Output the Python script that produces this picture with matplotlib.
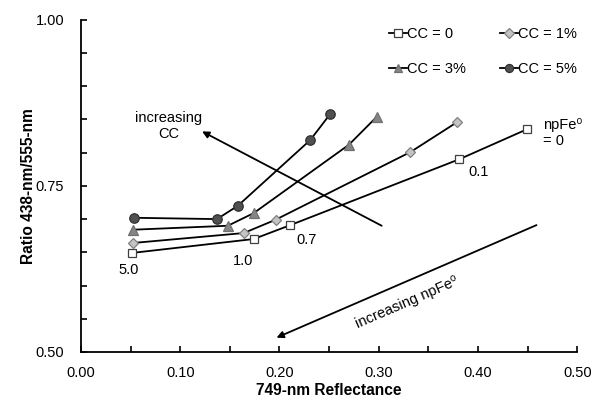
import matplotlib
matplotlib.use("Agg")
import matplotlib.pyplot as plt
from matplotlib.ticker import MultipleLocator, FormatStrFormatter

plt.rcParams['font.family'] = ['Liberation Sans', 'DejaVu Sans']

# 749-nm reflectance (x) and 438/555 ratio (y) for each carbon content,
# ordered from npFe0 = 5.0 down to npFe0 = 0
cc0_x = [0.051, 0.174, 0.211, 0.381, 0.449]
cc0_y = [0.649, 0.670, 0.691, 0.790, 0.835]
cc1_x = [0.052, 0.164, 0.196, 0.332, 0.379]
cc1_y = [0.664, 0.679, 0.699, 0.801, 0.846]
cc3_x = [0.052, 0.148, 0.174, 0.270, 0.298]
cc3_y = [0.684, 0.690, 0.709, 0.812, 0.854]
cc5_x = [0.053, 0.137, 0.158, 0.231, 0.251]
cc5_y = [0.702, 0.700, 0.720, 0.819, 0.858]

series_labels = ["CC = 0", "CC = 1%", "CC = 3%", "CC = 5%"]
npfe_labels = ["5.0", "1.0", "0.7", "0.1"]

fig = plt.figure(figsize=(6.0, 4.05), dpi=100)
ax = fig.add_axes([0.135, 0.131, 0.827, 0.820])

styles = [
    dict(marker='s', markerfacecolor='white', markeredgecolor='#404040', markersize=6.3),
    dict(marker='D', markerfacecolor='#c4c4c4', markeredgecolor='#808080', markersize=5.5),
    dict(marker='^', markerfacecolor='#858585', markeredgecolor='#707070', markersize=7.5),
    dict(marker='o', markerfacecolor='#505050', markeredgecolor='#303030', markersize=6.8),
]
data = [(cc0_x, cc0_y), (cc1_x, cc1_y), (cc3_x, cc3_y), (cc5_x, cc5_y)]
handles = []
for (xs, ys), st, lab in zip(data, styles, series_labels):
    h, = ax.plot(xs, ys, color='black', lw=1.3, label=lab, markeredgewidth=0.9, **st)
    handles.append(h)

ax.set_xlim(0, 0.5)
ax.set_ylim(0.5, 1.0)
ax.xaxis.set_major_locator(MultipleLocator(0.1))
ax.xaxis.set_minor_locator(MultipleLocator(0.05))
ax.yaxis.set_major_locator(MultipleLocator(0.25))
ax.yaxis.set_minor_locator(MultipleLocator(0.05))
ax.xaxis.set_major_formatter(FormatStrFormatter('%.2f'))
ax.yaxis.set_major_formatter(FormatStrFormatter('%.2f'))
for s in ['top', 'right']:
    ax.spines[s].set_visible(False)
for s in ['left', 'bottom']:
    ax.spines[s].set_linewidth(1.3)
ax.tick_params(which='both', direction='in', length=4, width=1.2, labelsize=10.5,
               colors='black')
ax.tick_params(axis='x', which='both', pad=10)
ax.tick_params(axis='y', which='both', pad=12)
ax.set_xlabel("749-nm Reflectance", fontsize=11.2, fontweight='bold', labelpad=2)
ax.set_ylabel("Ratio 438-nm/555-nm", fontsize=11.2, fontweight='bold', labelpad=0)

# npFe0 labels along the CC = 0 series
lab_fs = 10.5
ax.text(0.048, 0.624, npfe_labels[0], fontsize=lab_fs, ha='center', va='center')
ax.text(0.163, 0.637, npfe_labels[1], fontsize=lab_fs, ha='center', va='center')
ax.text(0.227, 0.668, npfe_labels[2], fontsize=lab_fs, ha='center', va='center')
ax.text(0.401, 0.771, npfe_labels[3], fontsize=lab_fs, ha='center', va='center')
ax.text(0.466, 0.830, "npFe\u2070\n= 0", fontsize=lab_fs, ha='left', va='center',
        linespacing=1.15)

# direction arrows
ax.annotate("", xy=(0.122, 0.832), xytext=(0.303, 0.690),
            arrowprops=dict(arrowstyle='-|>', color='black', lw=1.3,
                            mutation_scale=10, shrinkA=0, shrinkB=0))
ax.text(0.088, 0.840, "increasing\nCC", fontsize=lab_fs, ha='center', va='center',
        linespacing=1.2)
ax.annotate("", xy=(0.197, 0.5215), xytext=(0.459, 0.691),
            arrowprops=dict(arrowstyle='-|>', color='black', lw=1.3,
                            mutation_scale=10, shrinkA=0, shrinkB=0))
ax.text(0.328, 0.574, "increasing npFe\u2070", fontsize=lab_fs, ha='center',
        va='center', rotation=23.4, rotation_mode='anchor')

# legend filled row by row: (0, 1%) then (3%, 5%)
order = [0, 2, 1, 3]
fig.legend([handles[i] for i in order], [series_labels[i] for i in order],
           loc='upper left', bbox_to_anchor=(389 / 600, 1 - 27 / 405), ncol=2,
           frameon=False, fontsize=10.5, handlelength=1.25, handletextpad=0.0,
           columnspacing=2.3, labelspacing=1.45, borderaxespad=0.0,
           borderpad=0.0, markerscale=0.85)

fig.savefig("out.png", dpi=100)
